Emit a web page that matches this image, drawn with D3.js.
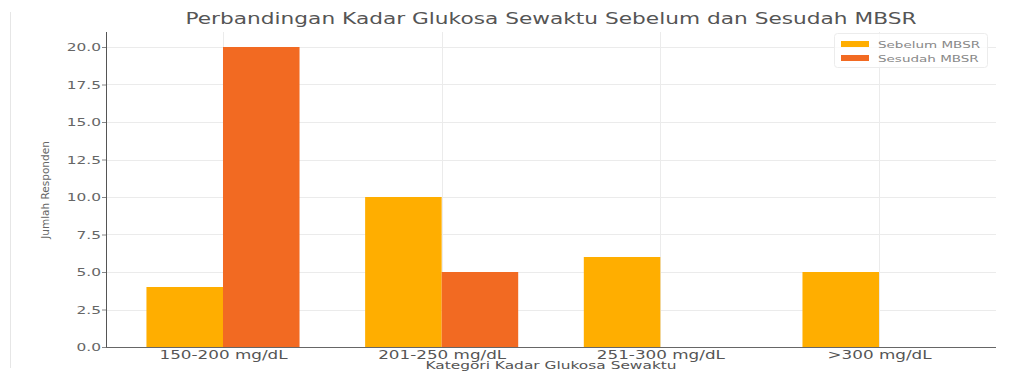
<!DOCTYPE html>
<html><head><meta charset="utf-8">
<script src="https://cdn.jsdelivr.net/npm/d3@7"></script>
<style>body{margin:0;background:#fff}svg{display:block}text{font-family:"DejaVu Sans",sans-serif}</style>
</head><body><svg id="c" width="1012" height="373"></svg>
<script>
const categories = ["150-200 mg/dL","201-250 mg/dL","251-300 mg/dL",">300 mg/dL"];
const sebelum = [4,10,6,5];
const sesudah = [20,5,0,0];
const seriesNames = ["Sebelum MBSR","Sesudah MBSR"];
const yTicks = [0,2.5,5,7.5,10,12.5,15,17.5,20];
const colors = ["#FFAE00","#F26A22"];

const SX = 1.4;
const svg = d3.select("#c");
const L=106, R=996, T=32, B=347;
svg.append("line").attr("x1",10.5).attr("x2",10.5).attr("y1",12).attr("y2",368).attr("stroke","#e6e6e6");

const x = d3.scaleLinear().domain([-0.535,3.535]).range([L,R]);
const y = d3.scaleLinear().domain([0,21]).range([B,T]);
const bw = 0.35;

const g = svg.append("g");
g.selectAll(".hg").data(yTicks).join("line")
 .attr("x1",L).attr("x2",R).attr("y1",d=>Math.round(y(d))+0.5).attr("y2",d=>Math.round(y(d))+0.5)
 .attr("stroke","#ebebeb");
g.selectAll(".vg").data(categories).join("line")
 .attr("x1",(d,i)=>Math.round(x(i))+0.5).attr("x2",(d,i)=>Math.round(x(i))+0.5).attr("y1",T).attr("y2",B)
 .attr("stroke","#ebebeb");

[sebelum,sesudah].forEach((vals,s)=>{
  svg.append("g").selectAll("rect").data(vals).join("rect")
   .attr("x",(d,i)=>x(i + (s===0?-bw:0)))
   .attr("width",x(bw)-x(0))
   .attr("y",d=>y(d)).attr("height",d=>y(0)-y(d))
   .attr("fill",colors[s]);
});

const ya = d3.axisLeft(y).tickValues(yTicks).tickFormat(d3.format(".1f")).tickSize(4).tickPadding(0);
const yg = svg.append("g").attr("transform",`translate(${L},0)`).call(ya);
yg.select(".domain").attr("stroke","#555").attr("d",`M0.5,${T}V${B}`);
yg.selectAll(".tick line").attr("stroke","#888");
yg.selectAll(".tick text").attr("fill","#666").attr("font-size",11)
  .attr("x",-5/SX).attr("transform",`scale(${SX},1)`);

const xa = d3.axisBottom(x).tickValues([0,1,2,3]).tickFormat(i=>categories[i]).tickSize(0).tickPadding(3);
const xg = svg.append("g").attr("transform",`translate(0,${B})`).call(xa);
xg.select(".domain").attr("stroke","#666").attr("d",`M${L},0.5H${R}`);
xg.selectAll(".tick text").attr("fill","#555").attr("font-size",12).attr("transform",`scale(${SX},1)`);

function stext(px,py,size,fill,str){
  return svg.append("text").attr("transform",`translate(${px},${py}) scale(${SX},1)`)
   .attr("text-anchor","middle").attr("font-size",size).attr("fill",fill).text(str);
}
stext((L+R)/2,24,15.5,"#555","Perbandingan Kadar Glukosa Sewaktu Sebelum dan Sesudah MBSR");
svg.append("text").attr("transform",`translate(49,190) rotate(-90)`).attr("text-anchor","middle")
 .attr("font-size",10.5).attr("fill","#666").attr("font-family","Liberation Sans Narrow, DejaVu Sans Condensed, sans-serif").text("Jumlah Responden");
stext((L+R)/2,369,11,"#555","Kategori Kadar Glukosa Sewaktu");

const lg = svg.append("g").attr("transform","translate(834,33)");
lg.append("rect").attr("x",0.5).attr("y",0.5).attr("width",153).attr("height",34).attr("rx",3)
 .attr("fill","#fff").attr("fill-opacity",0.8).attr("stroke","#ececec");
seriesNames.forEach((n,i)=>{
  lg.append("rect").attr("x",7).attr("y",8+i*14).attr("width",28).attr("height",6).attr("fill",colors[i]);
  lg.append("text").attr("transform",`translate(44,${14.5+i*14}) scale(1.5,1)`).attr("font-size",9).attr("fill","#888").text(n);
});
</script></body></html>
